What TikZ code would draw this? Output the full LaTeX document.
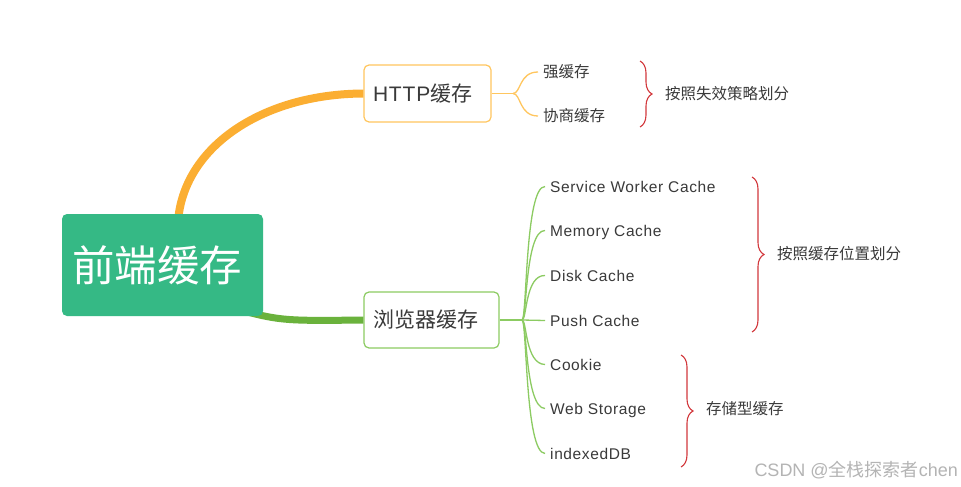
\documentclass[tikz,border=0pt]{standalone}
\usepackage{fontspec}
\newfontfamily\cjk{Noto Sans CJK SC}
\newfontfamily\lat[LetterSpace=4]{Liberation Sans}
\newfontfamily\latw{Liberation Sans}
\usetikzlibrary{decorations.pathreplacing}
\definecolor{rootgreen}{HTML}{35B985}
\definecolor{orangeT}{HTML}{FBAE32}
\definecolor{orangeL}{HTML}{FFC65E}
\definecolor{greenT}{HTML}{6AB23C}
\definecolor{greenL}{HTML}{8CCB62}
\definecolor{txt}{HTML}{3A3A3A}
\definecolor{redB}{HTML}{D2383C}
\definecolor{wm}{HTML}{B4B4B4}
\tikzset{
  rootbox/.style={fill=rootgreen, rounded corners=5pt, minimum height=102pt, text width=181pt, inner xsep=10pt, inner ysep=0pt, align=left, text=white, font=\cjk\fontsize{42.5}{44}\selectfont},
  catbox/.style={draw, fill=white, line width=1.2pt, rounded corners=5pt, minimum height=57pt, inner xsep=9pt, align=left, text=txt, font=\cjk\fontsize{21}{24}\selectfont},
  leaf/.style={anchor=base west, inner sep=0pt, text=txt, font=\cjk\fontsize{15.5}{18}\selectfont},
  leafl/.style={leaf, font=\lat\fontsize{15.5}{18}\selectfont},
  note/.style={anchor=west, inner sep=0pt, text=txt, font=\cjk\fontsize{15.5}{18}\selectfont},
  brace/.style={draw=redB, line width=1.1pt, decorate, decoration={brace, amplitude=12pt}},
  twig/.style={line width=1.3pt},
  tip/.style={xshift=-5pt, yshift=5.5pt},
}
\begin{document}
\begin{tikzpicture}[x=1pt,y=-1pt]
\useasboundingbox (0,0) rectangle (961,487);
\fill[white] (0,0) rectangle (961,487);

% category boxes
\node[catbox, draw=orangeL, text width=109pt] (http) at (427.5,93.5) {{\lat HTTP}缓存};
\node[catbox, draw=greenL, text width=117pt, minimum height=56pt] (browser) at (431.5,320) {浏览器缓存};

% main connectors
\draw[orangeT, line width=8pt] (178,222) .. controls (183,148) and (261,94) .. (http.west);
\draw[greenT, line width=7pt] (225,306) .. controls (280,321) .. (browser.west);

% root
\node[rootbox] (root) at (162.5,265) {前端缓存};

% HTTP children
\node[leaf] (strong) at (543,77.5) {强缓存};
\node[leaf] (nego) at (543,121.5) {协商缓存};
\coordinate (hj) at (513,93.5);
\draw[orangeL, twig] (http.east) -- (hj);
\draw[orangeL, twig] (hj) .. controls (521,93.5) and (519,72) .. ([tip]strong.base west);
\draw[orangeL, twig] (hj) .. controls (521,93.5) and (519,116) .. ([tip]nego.base west);

% browser children
\node[leafl] (sw) at (550,192) {Service Worker Cache};
\node[leafl] (mem) at (550,236) {Memory Cache};
\node[leafl] (disk) at (550,281) {Disk Cache};
\node[leafl] (push) at (550,326) {Push Cache};
\node[leafl] (cookie) at (550,370) {Cookie};
\node[leafl] (ws) at (550,414) {Web Storage};
\node[leafl] (idb) at (550,459) {indexedDB};
\coordinate (bj) at (522,320);
\draw[greenL, twig] (browser.east) -- (bj);
\foreach \c/\yy in {sw/186,mem/230,disk/275,cookie/364,ws/408,idb/453}{
  \draw[greenL, twig] (bj) .. controls (527,320) and (525,\yy) .. ([tip]\c.base west);
}
\draw[greenL, twig] (bj) -- ([tip]push.base west);

% braces and notes
\coordinate (b1t) at (640,61); \coordinate (b1b) at (640,127);
\draw[brace] (b1t) -- (b1b);
\node[note] (n1) at (665,94) {按照失效策略划分};
\coordinate (b2t) at (752,177); \coordinate (b2b) at (752,332);
\draw[brace] (b2t) -- (b2b);
\node[note] (n2) at (777,254) {按照缓存位置划分};
\coordinate (b3t) at (681,355); \coordinate (b3b) at (681,467);
\draw[brace] (b3t) -- (b3b);
\node[note] (n3) at (706,409) {存储型缓存};

% watermark
\node[anchor=east, inner sep=0pt, text=wm, font=\cjk\fontsize{18}{20}\selectfont] (wmk) at (958,470) {{\latw CSDN @}全栈探索者{\latw chen}};
\end{tikzpicture}
\end{document}
